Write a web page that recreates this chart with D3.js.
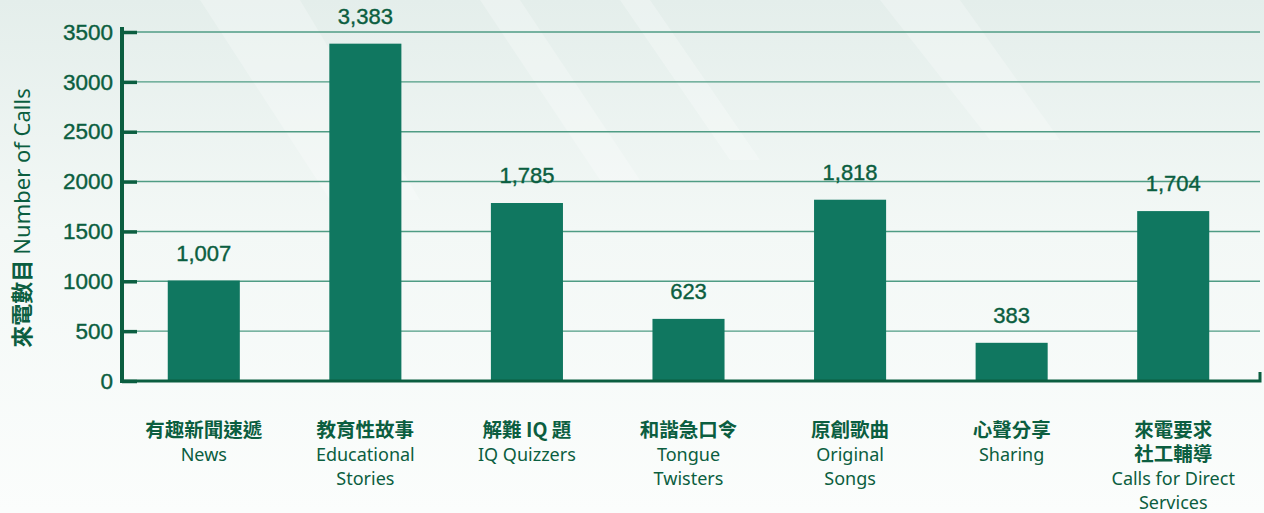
<!DOCTYPE html>
<html>
<head>
<meta charset="utf-8">
<script src="https://d3js.org/d3.v7.min.js"></script>
<style>
  html, body { margin: 0; padding: 0; background: #f8fbfa; }
  svg { display: block; }
</style>
</head>
<body>
<svg id="chart" width="1264" height="513"></svg>
<script>
// chart data
var categoriesZh = [["有趣新聞速遞"], ["教育性故事"], ["解難 IQ 題"], ["和諧急口令"], ["原創歌曲"], ["心聲分享"], ["來電要求", "社工輔導"]];
var categoriesEn = [["News"], ["Educational", "Stories"], ["IQ Quizzers"], ["Tongue", "Twisters"], ["Original", "Songs"], ["Sharing"], ["Calls for Direct", "Services"]];
var calls = [1007, 3383, 1785, 623, 1818, 383, 1704];
var yTicks = [0, 500, 1000, 1500, 2000, 2500, 3000, 3500];

var W = 1264, H = 513;
var x0 = 122, x1 = 1260, yBase = 381, yTop = 32;
var dark = "#0b5e40", barColor = "#107760", gridColor = "#4f9c84";
var numFont = "Liberation Sans, Arial, sans-serif";

var svg = d3.select("#chart");

// background: soft gradient with a few pale diagonal streaks
var defs = svg.append("defs");
var bg = defs.append("linearGradient").attr("id", "bg")
  .attr("x1", 0).attr("y1", 0).attr("x2", 0).attr("y2", 1);
bg.append("stop").attr("offset", "0%").attr("stop-color", "#e4eeeb");
bg.append("stop").attr("offset", "45%").attr("stop-color", "#f3f8f6");
bg.append("stop").attr("offset", "100%").attr("stop-color", "#fbfdfc");
svg.append("rect").attr("width", W).attr("height", H).attr("fill", "url(#bg)");

var streaks = [
  [[480, 0], [520, 0], [640, 180], [600, 180]],
  [[620, 0], [650, 0], [760, 160], [730, 160]],
  [[880, 0], [960, 0], [1060, 140], [990, 140]],
  [[200, 0], [300, 0], [420, 200], [330, 200]]
];
svg.append("g").selectAll("polygon").data(streaks).enter().append("polygon")
  .attr("points", function(d) { return d.map(function(p) { return p.join(","); }).join(" "); })
  .attr("fill", "#ffffff").attr("opacity", 0.25);

// scales
var x = d3.scaleBand().domain(d3.range(calls.length)).range([x0 + 1, 1254]).paddingInner(0.554).paddingOuter(0.277);
var y = d3.scaleLinear().domain([0, 3500]).range([yBase, yTop]);

// gridlines
svg.append("g").selectAll("line").data(yTicks.filter(function(t) { return t > 0; })).enter().append("line")
  .attr("x1", x0).attr("x2", x1)
  .attr("y1", function(d) { return y(d); }).attr("y2", function(d) { return y(d); })
  .attr("stroke", gridColor).attr("stroke-width", 1.4);

// bars
svg.append("g").selectAll("rect").data(calls).enter().append("rect")
  .attr("x", function(d, i) { return x(i); })
  .attr("width", x.bandwidth())
  .attr("y", function(d) { return y(d); })
  .attr("height", function(d) { return yBase - y(d); })
  .attr("fill", barColor);

// value labels
svg.append("g").selectAll("text").data(calls).enter().append("text")
  .attr("x", function(d, i) { return x(i) + x.bandwidth() / 2; })
  .attr("y", function(d) { return y(d) - 20; })
  .attr("text-anchor", "middle")
  .attr("font-family", numFont)
  .attr("font-size", 22)
  .attr("fill", dark).attr("stroke", dark).attr("stroke-width", 0.4)
  .text(function(d) { return d3.format(",")(d); });

// y axis
var yAxis = d3.axisLeft(y).tickValues(yTicks).tickSize(0).tickPadding(9).tickFormat(d3.format("d"));
var ga = svg.append("g").attr("transform", "translate(" + x0 + ",0)").call(yAxis);
ga.select(".domain").remove();
ga.selectAll("text")
  .attr("font-family", numFont)
  .attr("font-size", 22.5).attr("fill", dark).attr("stroke", dark).attr("stroke-width", 0.4);
ga.selectAll(".tick").append("line")
  .attr("x1", 0).attr("x2", 15).attr("stroke", dark).attr("stroke-width", 3.5);
svg.append("line").attr("x1", x0).attr("x2", x0).attr("y1", yTop - 5).attr("y2", yBase + 2)
  .attr("stroke", dark).attr("stroke-width", 4);

// baseline with end tick
svg.append("path")
  .attr("d", "M" + x0 + "," + yBase + "H" + x1 + "V" + (yBase - 9))
  .attr("fill", "none").attr("stroke", dark).attr("stroke-width", 3);

// category labels
var cat = svg.append("g").selectAll("text").data(calls).enter().append("text")
  .attr("text-anchor", "middle")
  .attr("fill", dark);
cat.each(function(d, i) {
  var t = d3.select(this);
  var cx = x(i) + x.bandwidth() / 2;
  var lineY = 437;
  categoriesZh[i].forEach(function(s) {
    t.append("tspan").attr("x", cx).attr("y", lineY)
      .attr("font-family", "Noto Sans CJK TC, sans-serif")
      .attr("font-weight", "bold").attr("font-size", 19.5).text(s);
    lineY += 24;
  });
  categoriesEn[i].forEach(function(s) {
    t.append("tspan").attr("x", cx).attr("y", lineY)
      .attr("font-family", "Noto Sans, Open Sans, sans-serif")
      .attr("font-size", 18).text(s);
    lineY += 24;
  });
});

// y axis title
var title = svg.append("text")
  .attr("transform", "translate(30,218) rotate(-90)")
  .attr("text-anchor", "middle")
  .attr("fill", dark)
  .attr("font-size", 22);
title.append("tspan").attr("font-family", "Noto Sans CJK TC, sans-serif").attr("font-weight", "bold").text("來電數目 ");
title.append("tspan").attr("font-family", "Noto Sans, Open Sans, sans-serif").text("Number of Calls");
</script>
</body>
</html>
